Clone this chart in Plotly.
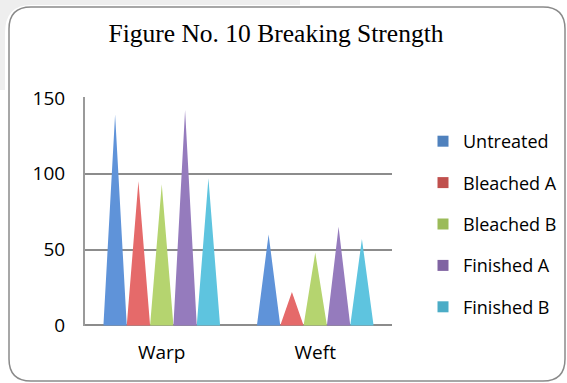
import plotly.graph_objects as go

# Breaking strength by fabric direction and treatment
categories = ["Warp", "Weft"]
series_names = ["Untreated", "Bleached A", "Bleached B", "Finished A", "Finished B"]
untreated = [139, 60]
bleached_a = [95, 22]
bleached_b = [93, 48]
finished_a = [142, 65]
finished_b = [97, 57]
y_ticks = [0, 50, 100, 150]

series_values = [untreated, bleached_a, bleached_b, finished_a, finished_b]
cone_colors = ["#5f93d9", "#e56a6a", "#b5d46f", "#957bbd", "#5ec4df"]
key_colors = ["#4f81bd", "#c0504d", "#9bbb59", "#8064a2", "#4bacc6"]

W, H = 567, 383
M_L, M_R, M_T, M_B = 85, 175, 97, 57
PW, PH = W - M_L - M_R, H - M_T - M_B

BAR_W = 0.152  # width of each cone in category units

fig = go.Figure()

# cones: one triangle per category for each series
n = len(series_values)
for j, (name, vals) in enumerate(zip(series_names, series_values)):
    xs, ys = [], []
    for i, v in enumerate(vals):
        xc = i + (j - (n - 1) / 2) * BAR_W
        xs += [xc - BAR_W / 2, xc, xc + BAR_W / 2, xc - BAR_W / 2, None]
        ys += [0, v, 0, 0, None]
    fig.add_trace(go.Scatter(
        x=xs, y=ys, mode="lines", fill="toself",
        fillcolor=cone_colors[j], line=dict(width=0, color=cone_colors[j]),
        name=name, showlegend=False, hoverinfo="skip",
    ))

# legend keys
for j, name in enumerate(series_names):
    fig.add_trace(go.Scatter(
        x=[None], y=[None], mode="markers", name=name, legendgroup=name,
        marker=dict(symbol="square", size=11, color=key_colors[j]),
    ))


def px_x(p):
    return (p - M_L) / PW


def px_y(p):
    return (H - M_B - p) / PH


# rounded outer frame
x0, x1, y0, y1, r = 9, 565, 7, 381, 22
frame = (
    f"M {px_x(x0 + r)},{px_y(y0)} L {px_x(x1 - r)},{px_y(y0)} "
    f"Q {px_x(x1)},{px_y(y0)} {px_x(x1)},{px_y(y0 + r)} "
    f"L {px_x(x1)},{px_y(y1 - r)} Q {px_x(x1)},{px_y(y1)} {px_x(x1 - r)},{px_y(y1)} "
    f"L {px_x(x0 + r)},{px_y(y1)} Q {px_x(x0)},{px_y(y1)} {px_x(x0)},{px_y(y1 - r)} "
    f"L {px_x(x0)},{px_y(y0 + r)} Q {px_x(x0)},{px_y(y0)} {px_x(x0 + r)},{px_y(y0)} Z"
)

# faint grey shading outside the frame along the top-left
shade = (
    f"M {px_x(0)},{px_y(0)} L {px_x(300)},{px_y(0)} L {px_x(300)},{px_y(5)} "
    f"L {px_x(x0 + r)},{px_y(5)} Q {px_x(5)},{px_y(5)} {px_x(5)},{px_y(y0 + r + 4)} "
    f"L {px_x(5)},{px_y(90)} L {px_x(0)},{px_y(90)} Z"
)

fig.update_layout(
    width=W, height=H,
    margin=dict(l=M_L, r=M_R, t=M_T, b=M_B, autoexpand=False),
    paper_bgcolor="white", plot_bgcolor="white",
    title=dict(
        text="Figure No. 10 Breaking Strength",
        font=dict(family="Liberation Serif", size=25.5, color="black"),
        x=276 / W, xanchor="center", y=1 - 33 / H, yanchor="middle",
    ),
    xaxis=dict(
        range=[-0.5, 1.5], tickvals=list(range(len(categories))), ticktext=categories,
        showgrid=False, zeroline=False, showline=False, ticks="",
        ticklabelstandoff=13,
        tickfont=dict(family="Open Sans", size=19, color="black"),
        fixedrange=True,
    ),
    yaxis=dict(
        range=[-0.4, 150.6], tickvals=y_ticks, showgrid=True, gridcolor="#8c8c8c", gridwidth=2,
        zeroline=True, zerolinecolor="#8c8c8c", zerolinewidth=2,
        showline=True, linecolor="#9a9a9a", linewidth=2, ticks="",
        ticklabelstandoff=14,
        tickfont=dict(family="Open Sans", size=19, color="black"),
        fixedrange=True,
    ),
    legend=dict(
        x=px_x(423), xanchor="left", y=px_y(123), yanchor="top",
        font=dict(family="Open Sans", size=18, color="black"),
        tracegroupgap=15, itemwidth=30, bgcolor="rgba(0,0,0,0)",
    ),
    shapes=[
        dict(type="path", path=shade, xref="paper", yref="paper",
             fillcolor="#eeeeee", line=dict(width=0), layer="below"),
        dict(type="path", path=frame, xref="paper", yref="paper",
             line=dict(color="#8a8a8a", width=1.5), layer="above"),
    ],
    showlegend=True,
)

fig.write_html("out.html")
